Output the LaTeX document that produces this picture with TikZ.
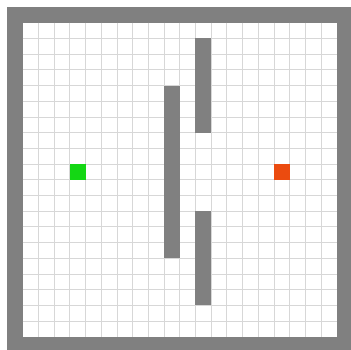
\documentclass[tikz,border=0pt]{standalone}
\definecolor{wallgray}{RGB}{128,128,128}
\definecolor{gridgray}{RGB}{215,215,215}
\definecolor{agentgreen}{RGB}{20,215,20}
\definecolor{goalorange}{RGB}{235,75,15}
\newcommand\cellbox[5]{\fill[#1] ({7+#2*15.7},{7+#3*15.7}) rectangle ({7+#4*15.7},{7+#5*15.7});}
\tikzset{gridline/.style={draw=gridgray,line width=0.8pt}}
\begin{document}
\begin{tikzpicture}[x=1pt,y=-1pt]
\useasboundingbox (0,0) rectangle (351,349);
\clip (0,0) rectangle (351,349);
\fill[white] (0,0) rectangle (351,349);
% outer frame
\cellbox{wallgray}{0}{0}{22}{22}
\cellbox{white}{1}{1}{21}{21}
% grid
\foreach \i in {2,...,20} {
  \draw[gridline] ({7+\i*15.7},{7+15.7}) -- ({7+\i*15.7},{7+21*15.7});
  \draw[gridline] ({7+15.7},{7+\i*15.7}) -- ({7+21*15.7},{7+\i*15.7});
}
% walls
\cellbox{wallgray}{10}{5}{11}{16}
\cellbox{wallgray}{12}{2}{13}{8}
\cellbox{wallgray}{12}{13}{13}{19}
% agent and goal
\cellbox{agentgreen}{4}{10}{5}{11}
\cellbox{goalorange}{17}{10}{18}{11}
\end{tikzpicture}
\end{document}
